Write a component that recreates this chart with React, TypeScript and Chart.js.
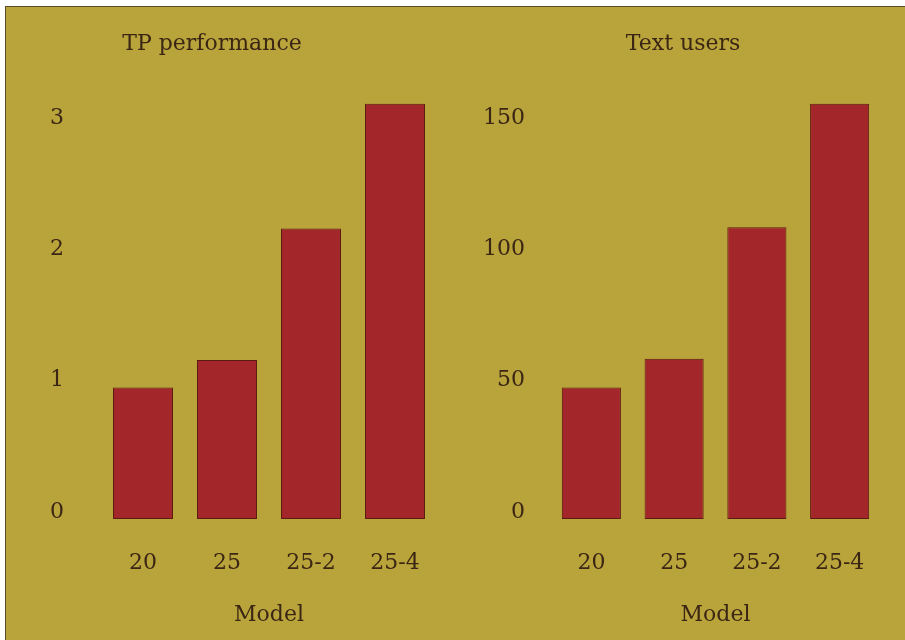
import React, { useEffect, useRef } from "react";
import { Chart, registerables } from "chart.js";

Chart.register(...registerables);

const categories = ["20", "25", "25-2", "25-4"];
const tpPerformance = [1.0, 1.21, 2.21, 3.16];
const textUsers = [50, 61, 111, 158];
const tpTicks = [0, 1, 2, 3];
const userTicks = [0, 50, 100, 150];
const leftTitle = "TP performance";
const rightTitle = "Text users";
const xTitle = "Model";

const BG = "#b9a43c";
const BAR = "#a3262a";
const BAR_EDGE = "#5c1a10";
const INK = "#3b2614";
const FONT = "'DejaVu Serif', serif";

type PanelProps = {
  title: string;
  values: number[];
  tickValues: number[];
  max: number;
  yWidth: number;
  tickPad: number;
  left: number;
  width: number;
};

function Panel({ title, values, tickValues, max, yWidth, tickPad, left, width }: PanelProps) {
  const ref = useRef<HTMLCanvasElement | null>(null);
  useEffect(() => {
    if (!ref.current) return;
    const font = { family: FONT, size: 22, weight: "normal" as const };
    const chart = new Chart(ref.current, {
      type: "bar",
      data: {
        labels: categories,
        datasets: [
          {
            data: values,
            backgroundColor: BAR,
            borderColor: BAR_EDGE,
            borderWidth: 1,
            borderSkipped: false,
            categoryPercentage: 1,
            barPercentage: 0.714,
          },
        ],
      },
      options: {
        responsive: false,
        animation: false,
        layout: { padding: 0 },
        plugins: {
          legend: { display: false },
          tooltip: { enabled: false },
          title: {
            display: true,
            text: title,
            color: INK,
            font,
            padding: { top: 24, bottom: 28 },
          },
        },
        scales: {
          x: {
            grid: { display: false, drawTicks: true, tickLength: 31 },
            border: { display: false },
            ticks: { color: INK, font, padding: 0 },
            title: {
              display: true,
              text: xTitle,
              color: INK,
              font,
              padding: { top: 0, bottom: 12 },
            },
            afterFit: (s: any) => {
              s.height = 121;
            },
          },
          y: {
            min: 0,
            max,
            grid: { display: false, drawTicks: false },
            border: { display: false },
            ticks: { color: INK, font, padding: tickPad, labelOffset: -7 },
            afterBuildTicks: (s: any) => {
              s.ticks = tickValues.map((v) => ({ value: v }));
            },
            afterFit: (s: any) => {
              s.width = yWidth;
            },
          },
        },
      },
    } as any);
    return () => chart.destroy();
  }, []);
  return (
    <canvas
      ref={ref}
      width={width}
      height={633}
      style={{ position: "absolute", left, top: 7, width, height: 633 }}
    />
  );
}

export default function App() {
  return (
    <div
      style={{
        position: "fixed",
        left: 0,
        top: 0,
        width: 905,
        height: 640,
        background: "#ffffff",
        overflow: "hidden",
      }}
    >
      <div
        style={{
          position: "absolute",
          left: 5,
          top: 6,
          right: 0,
          bottom: 0,
          background: BG,
          borderTop: "1px solid #5a4a2a",
          borderLeft: "1px solid #5a4a2a",
        }}
      />
      <Panel
        title={leftTitle}
        values={tpPerformance}
        tickValues={tpTicks}
        max={3.3}
        yWidth={114}
        tickPad={37}
        left={-13}
        width={450}
      />
      <Panel
        title={rightTitle}
        values={textUsers}
        tickValues={userTicks}
        max={165}
        yWidth={65}
        tickPad={25}
        left={485}
        width={396}
      />
    </div>
  );
}
